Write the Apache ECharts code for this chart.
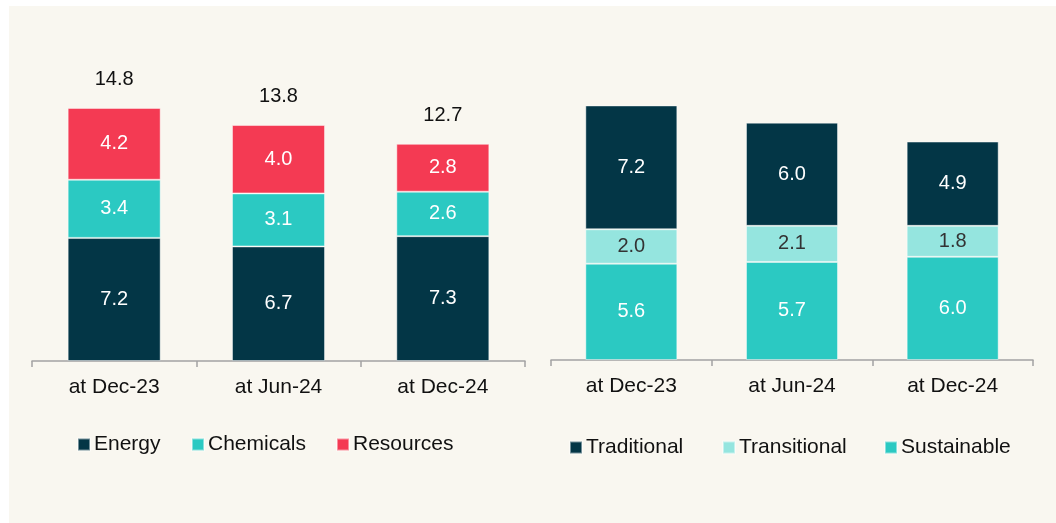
<!DOCTYPE html>
<html>
<head>
<meta charset="utf-8">
<script src="https://cdn.jsdelivr.net/npm/echarts@6/dist/echarts.min.js"></script>
<style>
  html, body { margin: 0; padding: 0; background: #ffffff; }
  #chart { width: 1056px; height: 523px; }
</style>
</head>
<body>
<div id="chart"></div>
<script>
// Periods shown on both panels
const periods = ['at Dec-23', 'at Jun-24', 'at Dec-24'];

// Left panel: split by sector
const energy = [7.2, 6.7, 7.3];
const chemicals = [3.4, 3.1, 2.6];
const resources = [4.2, 4.0, 2.8];
const sectorTotals = [14.8, 13.8, 12.7];

// Right panel: split by transition category
const sustainable = [5.6, 5.7, 6.0];
const transitional = [2.0, 2.1, 1.8];
const traditional = [7.2, 6.0, 4.9];

const NAVY = '#033646';
const TEAL = '#2BC9C2';
const RED = '#F43A53';
const LIGHT = '#95E5DF';
const FONT = 'Liberation Sans, Arial, sans-serif';

function segment(name, data, color, xi, barWidth, labelColor) {
  return {
    name: name, type: 'bar', stack: 's' + xi, xAxisIndex: xi, yAxisIndex: xi,
    data: data, barWidth: barWidth,
    itemStyle: { color: color, borderColor: 'rgba(255,255,255,0.45)', borderWidth: 1 },
    label: {
      show: true, position: 'inside', color: labelColor,
      fontFamily: FONT, fontSize: 20,
      formatter: p => p.value.toFixed(1)
    },
    emphasis: { disabled: true }
  };
}

function oneLegend(name, left, top) {
  return {
    data: [name], left: left, top: top, orient: 'horizontal',
    itemWidth: 12, itemHeight: 12, icon: 'rect', selectedMode: false,
    textStyle: { fontFamily: FONT, fontSize: 21, color: '#111111', lineHeight: 21, padding: [0, 0, 0, -1] },
    padding: 0
  };
}

const axisCommon = {
  type: 'category', data: periods,
  axisLine: { lineStyle: { color: '#A3A3A3', width: 1.5 } },
  axisTick: { show: true, length: 6, lineStyle: { color: '#A3A3A3', width: 1.5 } },
  axisLabel: { color: '#111111', fontFamily: FONT, fontSize: 21, margin: 16 }
};

const chart = echarts.init(document.getElementById('chart'), null, { renderer: 'canvas' });
chart.setOption({
  animation: false,
  backgroundColor: '#ffffff',
  graphic: [{
    type: 'rect', z: -10, silent: true,
    shape: { x: 9, y: 6, width: 1047, height: 517 },
    style: { fill: '#F9F7F0' }
  }],
  grid: [
    { left: 32, right: 531, top: 53.2, bottom: 162 },
    { left: 551, right: 23, top: 50.4, bottom: 163 }
  ],
  xAxis: [
    Object.assign({ gridIndex: 0 }, axisCommon),
    Object.assign({ gridIndex: 1 }, axisCommon)
  ],
  yAxis: [
    { type: 'value', gridIndex: 0, min: 0, max: 18, show: false, splitLine: { show: false } },
    { type: 'value', gridIndex: 1, min: 0, max: 18, show: false, splitLine: { show: false } }
  ],
  legend: [
    oneLegend('Energy', 77, 434),
    oneLegend('Chemicals', 191, 434),
    oneLegend('Resources', 336, 434),
    oneLegend('Traditional', 569, 437),
    oneLegend('Transitional', 722, 437),
    oneLegend('Sustainable', 884, 437)
  ],
  series: [
    segment('Energy', energy, NAVY, 0, 93, '#ffffff'),
    segment('Chemicals', chemicals, TEAL, 0, 93, '#ffffff'),
    segment('Resources', resources, RED, 0, 93, '#ffffff'),
    {
      // stack totals written above the left bars
      name: 'Total', type: 'scatter', xAxisIndex: 0, yAxisIndex: 0,
      data: sectorTotals, symbol: 'rect', symbolSize: 0.1,
      itemStyle: { color: 'rgba(0,0,0,0)', opacity: 1 },
      label: {
        show: true, position: 'top', distance: 18, opacity: 1,
        color: '#111111', fontFamily: FONT, fontSize: 20,
        formatter: p => p.value.toFixed(1)
      },
      emphasis: { disabled: true }
    },
    segment('Sustainable', sustainable, TEAL, 1, 92, '#ffffff'),
    segment('Transitional', transitional, LIGHT, 1, 92, '#333333'),
    segment('Traditional', traditional, NAVY, 1, 92, '#ffffff')
  ]
});
</script>
</body>
</html>
